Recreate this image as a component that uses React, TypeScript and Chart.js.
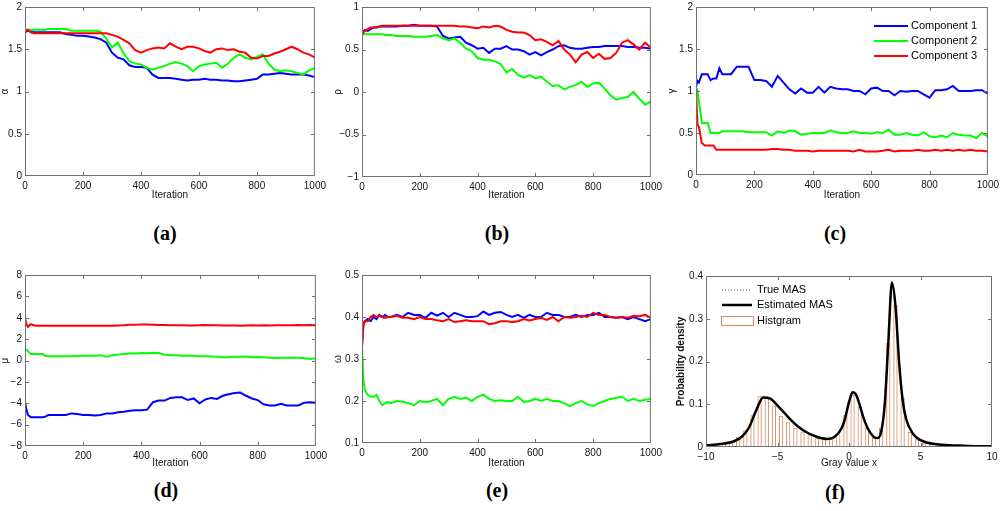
import React, { useEffect, useRef } from "react";
import { Chart, registerables } from "chart.js";

Chart.register(...registerables);

// iteration index shared by panels (a)-(e)
const ITER = [
  0, 5, 10, 20, 30, 40, 50, 60, 70, 80, 90, 100,
  120, 140, 160, 180, 200, 220, 240, 260, 280, 300,
  320, 340, 360, 380, 400, 420, 440, 460, 480, 500,
  520, 540, 560, 580, 600, 620, 640, 660, 680, 700,
  720, 740, 760, 780, 800, 820, 840, 860, 880, 900,
  920, 940, 960, 980, 1000,
];

// (a) alpha
const ALPHA_C1 = [
  1.70, 1.71, 1.72, 1.71, 1.70, 1.70, 1.70, 1.70, 1.70, 1.70, 1.70, 1.70,
  1.70, 1.68, 1.67, 1.66, 1.66, 1.65, 1.64, 1.62, 1.58, 1.46,
  1.40, 1.38, 1.31, 1.29, 1.29, 1.28, 1.20, 1.16, 1.16, 1.16,
  1.15, 1.14, 1.13, 1.14, 1.14, 1.15, 1.14, 1.14, 1.13, 1.13,
  1.12, 1.12, 1.13, 1.14, 1.15, 1.20, 1.20, 1.21, 1.22, 1.21,
  1.20, 1.20, 1.20, 1.19, 1.17,
];
const ALPHA_C2 = [
  1.72, 1.73, 1.73, 1.73, 1.73, 1.73, 1.73, 1.73, 1.73, 1.74, 1.74, 1.74,
  1.74, 1.74, 1.72, 1.72, 1.72, 1.72, 1.72, 1.71, 1.63, 1.52,
  1.58, 1.45, 1.36, 1.33, 1.32, 1.28, 1.26, 1.28, 1.30, 1.33,
  1.35, 1.33, 1.30, 1.24, 1.30, 1.32, 1.33, 1.34, 1.28, 1.33,
  1.40, 1.44, 1.40, 1.38, 1.41, 1.44, 1.33, 1.26, 1.24, 1.25,
  1.24, 1.22, 1.20, 1.25, 1.28,
];
const ALPHA_C3 = [
  1.70, 1.72, 1.73, 1.70, 1.69, 1.69, 1.69, 1.69, 1.69, 1.69, 1.69, 1.69,
  1.69, 1.69, 1.69, 1.69, 1.69, 1.69, 1.69, 1.69, 1.69, 1.67,
  1.65, 1.61, 1.57, 1.49, 1.46, 1.49, 1.51, 1.52, 1.51, 1.57,
  1.53, 1.50, 1.53, 1.53, 1.51, 1.48, 1.46, 1.50, 1.51, 1.49,
  1.50, 1.47, 1.46, 1.40, 1.39, 1.42, 1.42, 1.45, 1.47, 1.50,
  1.53, 1.50, 1.46, 1.44, 1.40,
];

// (b) rho
const RHO_C1 = [
  0.70, 0.71, 0.73, 0.72, 0.74, 0.76, 0.76, 0.77, 0.77, 0.77, 0.77, 0.77,
  0.77, 0.78, 0.78, 0.79, 0.78, 0.78, 0.78, 0.77, 0.66, 0.63,
  0.64, 0.65, 0.58, 0.55, 0.51, 0.52, 0.46, 0.51, 0.51, 0.54,
  0.50, 0.50, 0.48, 0.44, 0.47, 0.43, 0.47, 0.50, 0.54, 0.55,
  0.52, 0.51, 0.51, 0.52, 0.53, 0.53, 0.54, 0.54, 0.54, 0.54,
  0.53, 0.53, 0.52, 0.52, 0.51,
];
const RHO_C2 = [
  0.68, 0.68, 0.68, 0.68, 0.68, 0.68, 0.68, 0.68, 0.68, 0.67, 0.67, 0.67,
  0.66, 0.66, 0.66, 0.65, 0.65, 0.65, 0.66, 0.67, 0.63, 0.61,
  0.63, 0.58, 0.51, 0.48, 0.40, 0.38, 0.38, 0.36, 0.33, 0.23,
  0.27, 0.20, 0.17, 0.20, 0.16, 0.18, 0.12, 0.07, 0.08, 0.03,
  0.06, 0.08, 0.12, 0.06, 0.10, 0.11, 0.04, -0.04, -0.09, -0.07,
  -0.06, 0.00, -0.08, -0.15, -0.11,
];
const RHO_C3 = [
  0.68, 0.70, 0.72, 0.74, 0.76, 0.76, 0.76, 0.77, 0.78, 0.78, 0.78, 0.78,
  0.78, 0.78, 0.78, 0.78, 0.78, 0.78, 0.78, 0.78, 0.78, 0.78,
  0.78, 0.77, 0.77, 0.76, 0.75, 0.77, 0.76, 0.78, 0.77, 0.73,
  0.71, 0.70, 0.70, 0.67, 0.61, 0.62, 0.59, 0.55, 0.60, 0.50,
  0.44, 0.35, 0.44, 0.47, 0.40, 0.45, 0.39, 0.40, 0.46, 0.58,
  0.61, 0.56, 0.50, 0.58, 0.52,
];

// (c) gamma
const GAMMA_C1 = [
  1.05, 1.12, 1.10, 1.20, 1.20, 1.20, 1.13, 1.15, 1.15, 1.27, 1.20, 1.20,
  1.20, 1.29, 1.29, 1.29, 1.13, 1.13, 1.12, 1.05, 1.18, 1.10,
  1.02, 0.97, 1.03, 0.98, 0.98, 1.05, 0.98, 1.05, 1.03, 1.02,
  1.02, 1.00, 1.00, 0.96, 1.03, 1.04, 1.00, 1.00, 0.95, 1.00,
  0.99, 1.00, 1.00, 0.96, 0.92, 1.01, 1.01, 1.02, 1.06, 1.00,
  1.00, 1.00, 1.01, 1.01, 0.97,
];
const GAMMA_C2 = [
  1.04, 1.00, 0.88, 0.62, 0.62, 0.62, 0.50, 0.50, 0.50, 0.50, 0.52, 0.52,
  0.52, 0.52, 0.52, 0.51, 0.51, 0.51, 0.51, 0.47, 0.52, 0.50,
  0.53, 0.52, 0.48, 0.49, 0.50, 0.50, 0.50, 0.53, 0.51, 0.50,
  0.50, 0.52, 0.50, 0.50, 0.49, 0.51, 0.50, 0.54, 0.48, 0.48,
  0.50, 0.48, 0.47, 0.51, 0.46, 0.45, 0.47, 0.45, 0.50, 0.48,
  0.47, 0.47, 0.44, 0.50, 0.46,
];
const GAMMA_C3 = [
  1.02, 0.60, 0.57, 0.38, 0.35, 0.35, 0.35, 0.35, 0.30, 0.30, 0.30, 0.30,
  0.30, 0.30, 0.30, 0.30, 0.30, 0.30, 0.30, 0.31, 0.31, 0.30,
  0.30, 0.29, 0.29, 0.29, 0.28, 0.29, 0.29, 0.29, 0.29, 0.29,
  0.29, 0.28, 0.30, 0.28, 0.28, 0.28, 0.29, 0.30, 0.28, 0.29,
  0.29, 0.29, 0.30, 0.29, 0.29, 0.30, 0.29, 0.30, 0.29, 0.30,
  0.29, 0.30, 0.29, 0.29, 0.28,
];

// (d) mu
const MU_C1 = [
  -3.90, -4.60, -5.10, -5.30, -5.30, -5.30, -5.30, -5.30, -5.25, -5.10, -5.10, -5.10,
  -5.10, -5.10, -4.95, -5.00, -5.10, -5.10, -5.15, -5.10, -4.95, -4.95,
  -4.85, -4.80, -4.70, -4.65, -4.65, -4.60, -3.90, -3.75, -3.75, -3.50,
  -3.45, -3.45, -3.70, -3.55, -4.00, -3.65, -3.50, -3.60, -3.30, -3.15,
  -3.05, -3.00, -3.30, -3.55, -3.70, -4.10, -4.20, -4.20, -4.05, -4.20,
  -4.20, -4.20, -3.95, -3.90, -3.95,
];
const MU_C2 = [
  1.10, 1.00, 0.90, 0.60, 0.60, 0.60, 0.60, 0.60, 0.45, 0.40, 0.40, 0.40,
  0.40, 0.40, 0.40, 0.42, 0.45, 0.45, 0.45, 0.50, 0.35, 0.50,
  0.55, 0.60, 0.65, 0.65, 0.70, 0.68, 0.72, 0.70, 0.55, 0.50,
  0.50, 0.45, 0.45, 0.45, 0.40, 0.40, 0.38, 0.35, 0.30, 0.30,
  0.35, 0.35, 0.38, 0.30, 0.32, 0.30, 0.25, 0.22, 0.25, 0.25,
  0.28, 0.25, 0.20, 0.15, 0.20,
];
const MU_C3 = [
  4.00, 3.40, 3.15, 3.40, 3.30, 3.25, 3.25, 3.25, 3.25, 3.25, 3.25, 3.25,
  3.25, 3.25, 3.25, 3.25, 3.25, 3.25, 3.25, 3.25, 3.25, 3.25,
  3.28, 3.30, 3.35, 3.35, 3.38, 3.36, 3.35, 3.33, 3.32, 3.30,
  3.30, 3.30, 3.28, 3.28, 3.30, 3.32, 3.30, 3.30, 3.28, 3.28,
  3.28, 3.25, 3.28, 3.30, 3.28, 3.30, 3.28, 3.30, 3.30, 3.30,
  3.30, 3.32, 3.30, 3.32, 3.30,
];

// (e) omega
const OMEGA_C1 = [
  0.330, 0.385, 0.390, 0.395, 0.390, 0.400, 0.395, 0.405, 0.400, 0.405, 0.400, 0.400,
  0.405, 0.400, 0.410, 0.405, 0.405, 0.398, 0.410, 0.403, 0.410, 0.400,
  0.410, 0.405, 0.400, 0.400, 0.402, 0.413, 0.405, 0.410, 0.412, 0.405,
  0.400, 0.405, 0.398, 0.405, 0.400, 0.400, 0.410, 0.405, 0.405, 0.400,
  0.400, 0.405, 0.400, 0.405, 0.405, 0.410, 0.400, 0.400, 0.398, 0.400,
  0.395, 0.400, 0.395, 0.390, 0.395,
];
const OMEGA_C2 = [
  0.330, 0.250, 0.225, 0.215, 0.210, 0.210, 0.215, 0.200, 0.190, 0.195, 0.198, 0.195,
  0.200, 0.198, 0.195, 0.190, 0.200, 0.197, 0.200, 0.205, 0.190, 0.205,
  0.210, 0.205, 0.208, 0.200, 0.210, 0.215, 0.205, 0.200, 0.202, 0.200,
  0.200, 0.210, 0.198, 0.200, 0.205, 0.200, 0.205, 0.200, 0.200, 0.195,
  0.188, 0.195, 0.200, 0.192, 0.188, 0.195, 0.200, 0.205, 0.208, 0.210,
  0.200, 0.205, 0.200, 0.203, 0.205,
];
const OMEGA_C3 = [
  0.330, 0.380, 0.390, 0.390, 0.400, 0.405, 0.400, 0.403, 0.400, 0.398, 0.400, 0.400,
  0.403, 0.398, 0.398, 0.395, 0.400, 0.395, 0.395, 0.392, 0.390, 0.395,
  0.388, 0.390, 0.392, 0.390, 0.390, 0.390, 0.383, 0.385, 0.390, 0.390,
  0.388, 0.390, 0.395, 0.392, 0.395, 0.398, 0.393, 0.400, 0.390, 0.400,
  0.398, 0.400, 0.403, 0.400, 0.410, 0.405, 0.405, 0.400, 0.398, 0.400,
  0.398, 0.403, 0.402, 0.405, 0.398,
];

// (f) densities
const CURVE_X = [
  -10, -9, -8, -7.5, -7, -6.5, -6, -5.5, -5, -4.5, -4, -3.5, -3, -2.5, -2, -1.5,
  -1, -0.5, -0.25, 0, 0.25, 0.5, 0.75, 1, 1.25, 1.5, 1.75, 2, 2.25, 2.5, 2.75,
  3, 3.25, 3.5, 3.75, 4, 4.5, 5, 5.5, 6, 7, 8, 9, 10,
];
const EST_MAS = [
  0.004, 0.007, 0.014, 0.024, 0.045, 0.085, 0.116, 0.113, 0.097, 0.079, 0.061, 0.046, 0.035, 0.027, 0.021, 0.019,
  0.024, 0.045, 0.07, 0.105, 0.128, 0.122, 0.098, 0.07, 0.048, 0.033, 0.023, 0.021, 0.035, 0.1, 0.245,
  0.385, 0.33, 0.2, 0.11, 0.065, 0.03, 0.016, 0.01, 0.007, 0.004, 0.003, 0.002, 0.002,
];
const TRUE_MAS = [
  0.004, 0.007, 0.013, 0.023, 0.044, 0.084, 0.116, 0.114, 0.098, 0.079, 0.061, 0.046, 0.035, 0.027, 0.021, 0.019,
  0.024, 0.044, 0.069, 0.104, 0.128, 0.123, 0.098, 0.07, 0.048, 0.033, 0.023, 0.021, 0.034, 0.098, 0.243,
  0.386, 0.332, 0.2, 0.11, 0.064, 0.03, 0.016, 0.01, 0.007, 0.004, 0.003, 0.002, 0.002,
];
const HIST_X = [
  -9.75, -9.25, -8.75, -8.25, -7.75, -7.25, -6.75, -6.25, -5.75, -5.25,
  -4.75, -4.25, -3.75, -3.25, -2.75, -2.25, -1.75, -1.25, -0.75, -0.25,
  0.25, 0.75, 1.25, 1.75, 2.25, 2.75, 3.25, 3.75, 4.25, 4.75,
  5.25, 5.75, 6.25, 6.75, 7.25, 7.75, 8.25, 8.75, 9.25, 9.75,
];
const HIST_Y = [
  0.004, 0.005, 0.007, 0.010, 0.024, 0.039, 0.074, 0.119, 0.115, 0.097,
  0.073, 0.058, 0.045, 0.036, 0.029, 0.022, 0.018, 0.020, 0.030, 0.075,
  0.122, 0.095, 0.045, 0.022, 0.045, 0.243, 0.332, 0.115, 0.035, 0.018,
  0.010, 0.007, 0.005, 0.004, 0.003, 0.003, 0.002, 0.002, 0.002, 0.001,
];

const COMPONENTS = ["Component 1", "Component 2", "Component 3"];
const COLORS = ["#0000ff", "#00ff00", "#ff0000"];
const HIST_COLOR = "#d8895f";

const SANS = "'Liberation Sans', Arial, sans-serif";
const PAD_TOP = 7;
const PAD_RIGHT = 14;

type Geo = { left: number; top: number; right: number; bottom: number; yW: number; xH: number };

const fmt = (v: any) => String(Math.round(Number(v) * 1000) / 1000).replace("-", "\u2212");

// box + inward ticks on all four sides, MATLAB style
const framePlugin = {
  id: "frame",
  afterDatasetsDraw(chart: any) {
    const { ctx, chartArea: a, scales } = chart;
    ctx.save();
    ctx.strokeStyle = "#707070";
    ctx.lineWidth = 1;
    ctx.strokeRect(a.left + 0.5, a.top + 0.5, a.right - a.left - 1, a.bottom - a.top - 1);
    ctx.beginPath();
    for (const t of scales.x.ticks) {
      const p = Math.round(scales.x.getPixelForValue(t.value)) + 0.5;
      if (p < a.left + 2 || p > a.right - 2) continue;
      ctx.moveTo(p, a.bottom);
      ctx.lineTo(p, a.bottom - 4);
      ctx.moveTo(p, a.top);
      ctx.lineTo(p, a.top + 4);
    }
    for (const t of scales.y.ticks) {
      const p = Math.round(scales.y.getPixelForValue(t.value)) + 0.5;
      if (p < a.top + 2 || p > a.bottom - 2) continue;
      ctx.moveTo(a.left, p);
      ctx.lineTo(a.left + 4, p);
      ctx.moveTo(a.right, p);
      ctx.lineTo(a.right - 4, p);
    }
    ctx.stroke();
    ctx.restore();
  },
};

const componentLegend = {
  id: "componentLegend",
  afterDraw(chart: any) {
    const { ctx, chartArea: a } = chart;
    ctx.save();
    ctx.font = `11px ${SANS}`;
    ctx.textBaseline = "middle";
    ctx.fillStyle = "#000";
    COMPONENTS.forEach((name, i) => {
      const y = a.top + 19 + i * 15;
      ctx.strokeStyle = COLORS[i];
      ctx.lineWidth = 2;
      ctx.beginPath();
      ctx.moveTo(a.left + 178, y);
      ctx.lineTo(a.left + 212, y);
      ctx.stroke();
      ctx.fillText(name, a.left + 215, y);
    });
    ctx.restore();
  },
};

const densityLegend = {
  id: "densityLegend",
  afterDraw(chart: any) {
    const { ctx, chartArea: a } = chart;
    const x0 = a.left + 16;
    const x1 = a.left + 46;
    const tx = a.left + 51;
    ctx.save();
    ctx.font = `11px ${SANS}`;
    ctx.textBaseline = "middle";
    ctx.fillStyle = "#000";
    let y = a.top + 14;
    ctx.strokeStyle = "#666";
    ctx.lineWidth = 1;
    ctx.setLineDash([1, 2]);
    ctx.beginPath();
    ctx.moveTo(x0, y);
    ctx.lineTo(x1, y);
    ctx.stroke();
    ctx.setLineDash([]);
    ctx.fillText("True MAS", tx, y);
    y = a.top + 29;
    ctx.strokeStyle = "#000";
    ctx.lineWidth = 2.5;
    ctx.beginPath();
    ctx.moveTo(x0, y);
    ctx.lineTo(x1, y);
    ctx.stroke();
    ctx.fillText("Estimated MAS", tx, y);
    y = a.top + 45;
    ctx.strokeStyle = HIST_COLOR;
    ctx.lineWidth = 1;
    ctx.strokeRect(x0 - 0.5, y - 4.5, 32, 9);
    ctx.fillText("Histgram", tx, y);
    ctx.restore();
  },
};

function axis(geo: Geo, horizontal: boolean, min: number, max: number, step: number, title: string, bold = false) {
  return {
    type: "linear",
    min,
    max,
    offset: false,
    ticks: {
      stepSize: step,
      autoSkip: false,
      maxRotation: 0,
      padding: horizontal ? 4 : 3,
      color: "#111",
      font: { size: 10, family: SANS },
      callback: fmt,
    },
    grid: { display: false, drawTicks: false },
    border: { display: false },
    title: {
      display: true,
      text: title,
      color: "#111",
      font: { size: 10, family: SANS, weight: bold ? "bold" : "normal" },
      padding: { top: 0, bottom: 0 },
    },
    afterFit: (s: any) => {
      if (horizontal) s.height = geo.xH;
      else s.width = geo.yW;
    },
  };
}

function baseOptions() {
  return {
    animation: false,
    responsive: true,
    maintainAspectRatio: false,
    layout: { padding: { top: PAD_TOP, right: PAD_RIGHT, left: 0, bottom: 0 } },
    plugins: { legend: { display: false }, tooltip: { enabled: false } },
  };
}

function traceConfig(geo: Geo, series: number[][], yMin: number, yMax: number, yStep: number, yTitle: string, legend: boolean) {
  return {
    type: "line",
    data: {
      datasets: series.map((s, i) => ({
        label: COMPONENTS[i],
        data: ITER.map((x, j) => ({ x, y: s[j] })),
        borderColor: COLORS[i],
        borderWidth: 2,
        pointRadius: 0,
        tension: 0,
        order: 2 - i,
      })),
    },
    options: {
      ...baseOptions(),
      scales: {
        x: axis(geo, true, 0, 1000, 200, "Iteration"),
        y: axis(geo, false, yMin, yMax, yStep, yTitle),
      },
    },
    plugins: legend ? [framePlugin, componentLegend] : [framePlugin],
  };
}

function densityConfig(geo: Geo) {
  return {
    type: "line",
    data: {
      datasets: [
        {
          type: "line",
          label: "Estimated MAS",
          data: CURVE_X.map((x, i) => ({ x, y: EST_MAS[i] })),
          borderColor: "#000",
          borderWidth: 2.5,
          pointRadius: 0,
          cubicInterpolationMode: "monotone",
        },
        {
          type: "line",
          label: "True MAS",
          data: CURVE_X.map((x, i) => ({ x, y: TRUE_MAS[i] })),
          borderColor: "#555",
          borderWidth: 1,
          borderDash: [1, 2],
          pointRadius: 0,
          cubicInterpolationMode: "monotone",
        },
        {
          type: "bar",
          label: "Histgram",
          data: HIST_X.map((x, i) => ({ x, y: HIST_Y[i] })),
          backgroundColor: "rgba(255,255,255,0)",
          borderColor: HIST_COLOR,
          borderWidth: 1,
          barPercentage: 0.6,
          categoryPercentage: 1,
        },
      ],
    },
    options: {
      ...baseOptions(),
      scales: {
        x: axis(geo, true, -10, 10, 5, "Gray value x"),
        y: axis(geo, false, 0, 0.4, 0.1, "Probability density", true),
      },
    },
    plugins: [framePlugin, densityLegend],
  };
}

function Panel({ geo, build }: { geo: Geo; build: (g: Geo) => any }) {
  const ref = useRef<HTMLCanvasElement | null>(null);
  useEffect(() => {
    if (!ref.current) return;
    const chart = new Chart(ref.current, build(geo));
    return () => chart.destroy();
  }, []);
  const w = geo.yW + geo.right - geo.left + PAD_RIGHT;
  const h = PAD_TOP + geo.bottom - geo.top + geo.xH;
  return (
    <div style={{ position: "absolute", left: geo.left - geo.yW, top: geo.top - PAD_TOP, width: w, height: h }}>
      <canvas ref={ref} />
    </div>
  );
}

const GEO_A: Geo = { left: 25, top: 5, right: 316, bottom: 176, yW: 26, xH: 25 };
const GEO_B: Geo = { left: 362, top: 5, right: 652, bottom: 177, yW: 30, xH: 24 };
const GEO_C: Geo = { left: 696, top: 5, right: 989, bottom: 175, yW: 30, xH: 26 };
const GEO_D: Geo = { left: 25, top: 273, right: 317, bottom: 446, yW: 26, xH: 23 };
const GEO_E: Geo = { left: 362, top: 273, right: 652, bottom: 443, yW: 30, xH: 26 };
const GEO_F: Geo = { left: 706, top: 274, right: 992, bottom: 447, yW: 31, xH: 22 };

const LABELS = [
  { t: "(a)", x: 165, y: 233 },
  { t: "(b)", x: 497, y: 233 },
  { t: "(c)", x: 835, y: 233 },
  { t: "(d)", x: 166, y: 490 },
  { t: "(e)", x: 497, y: 490 },
  { t: "(f)", x: 835, y: 492 },
];

export default function App() {
  return (
    <div style={{ position: "absolute", left: 0, top: 0, width: 1000, height: 511, background: "#fff", overflow: "hidden" }}>
      <Panel geo={GEO_A} build={(g) => traceConfig(g, [ALPHA_C1, ALPHA_C2, ALPHA_C3], 0, 2, 0.5, "\u03b1", false)} />
      <Panel geo={GEO_B} build={(g) => traceConfig(g, [RHO_C1, RHO_C2, RHO_C3], -1, 1, 0.5, "\u03c1", false)} />
      <Panel geo={GEO_C} build={(g) => traceConfig(g, [GAMMA_C1, GAMMA_C2, GAMMA_C3], 0, 2, 0.5, "\u03b3", true)} />
      <Panel geo={GEO_D} build={(g) => traceConfig(g, [MU_C1, MU_C2, MU_C3], -8, 8, 2, "\u03bc", false)} />
      <Panel geo={GEO_E} build={(g) => traceConfig(g, [OMEGA_C1, OMEGA_C2, OMEGA_C3], 0.1, 0.5, 0.1, "\u03c9", false)} />
      <Panel geo={GEO_F} build={densityConfig} />
      {LABELS.map((l) => (
        <div
          key={l.t}
          style={{
            position: "absolute",
            left: l.x,
            top: l.y,
            transform: "translate(-50%, -50%)",
            font: "bold 20px 'Liberation Serif', 'Times New Roman', serif",
            color: "#000",
            whiteSpace: "nowrap",
          }}
        >
          {l.t}
        </div>
      ))}
    </div>
  );
}
